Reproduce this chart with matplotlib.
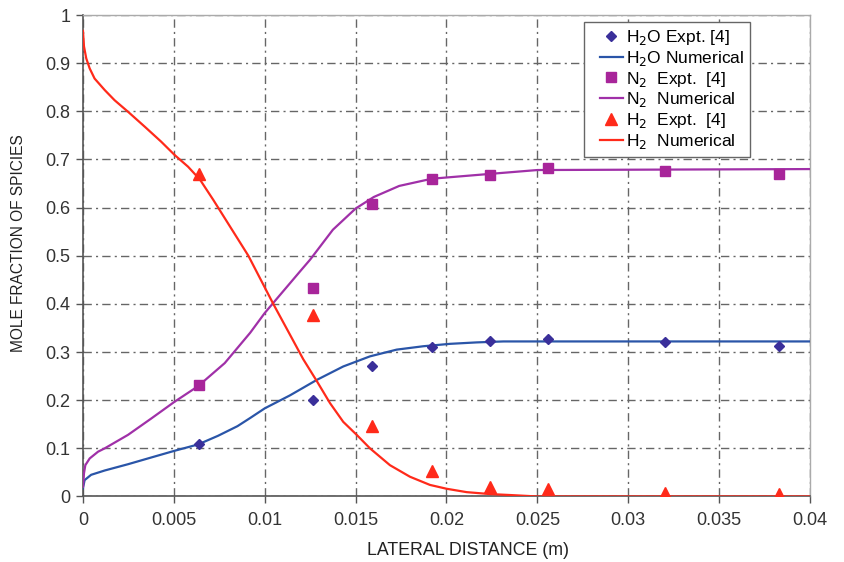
import matplotlib
matplotlib.use("Agg")
import matplotlib.pyplot as plt
from matplotlib.lines import Line2D
from matplotlib.legend_handler import HandlerLine2D

plt.rcParams['font.family'] = ['Liberation Sans', 'DejaVu Sans']

# Experimental data
x_expt = [0.00638, 0.01265, 0.0159, 0.0192, 0.0224, 0.0256, 0.0320, 0.0383]
h2o_expt = [0.108, 0.200, 0.270, 0.310, 0.322, 0.328, 0.320, 0.312]
n2_expt = [0.231, 0.432, 0.607, 0.659, 0.668, 0.682, 0.676, 0.670]
h2_expt = [0.670, 0.376, 0.146, 0.052, 0.019, 0.015, 0.008, 0.006]

# Numerical curves
x_h2o_num = [0.0, 0.00009, 0.00045, 0.0012, 0.00248, 0.00376, 0.00505, 0.00633,
             0.00743, 0.0085, 0.0092, 0.01, 0.01139, 0.01286, 0.01432, 0.01579,
             0.01726, 0.01872, 0.02019, 0.02166, 0.02313, 0.04]
h2o_num = [0.017, 0.034, 0.045, 0.054, 0.067, 0.081, 0.095, 0.108,
           0.126, 0.146, 0.163, 0.183, 0.210, 0.242, 0.270, 0.291,
           0.305, 0.312, 0.317, 0.320, 0.322, 0.322]

x_n2_num = [0.0, 0.000055, 0.00013, 0.00037, 0.00083, 0.0012, 0.00248, 0.00376,
            0.00505, 0.00633, 0.0078, 0.0092, 0.01, 0.01056, 0.012, 0.0125,
            0.01375, 0.015, 0.016, 0.0174, 0.0192, 0.0224, 0.025, 0.04]
n2_num = [0.020, 0.048, 0.065, 0.079, 0.093, 0.100, 0.128, 0.162,
          0.197, 0.229, 0.277, 0.340, 0.381, 0.406, 0.470, 0.492,
          0.554, 0.598, 0.622, 0.645, 0.660, 0.670, 0.678, 0.680]

x_h2_num = [0.0, 0.000055, 0.00018, 0.00037, 0.00064, 0.0012, 0.00174, 0.00248,
            0.0034, 0.0043, 0.00505, 0.00578, 0.00644, 0.00717, 0.0091, 0.01047,
            0.01139, 0.01212, 0.01286, 0.01359, 0.01432, 0.01506, 0.01579, 0.01689,
            0.01799, 0.01909, 0.02001, 0.02111, 0.02239, 0.0235, 0.025, 0.04]
h2_num = [0.967, 0.935, 0.910, 0.889, 0.868, 0.844, 0.823, 0.799,
          0.768, 0.737, 0.709, 0.685, 0.658, 0.616, 0.500, 0.400,
          0.336, 0.285, 0.240, 0.194, 0.155, 0.128, 0.100, 0.065,
          0.041, 0.024, 0.016, 0.009, 0.005, 0.003, 0.0, 0.0]

fig = plt.figure(figsize=(8.44, 5.62), dpi=100)
ax = fig.add_axes([0.0983, 0.1166, 0.8614, 0.8567])

c_h2o_m = '#3a2f9a'
c_h2o_l = '#2a55a8'
c_n2 = '#a8259a'
c_n2_l = '#a030a8'
c_h2 = '#ff2a1a'

ax.plot(x_expt, h2o_expt, linestyle='none', marker='D', ms=5.5, color=c_h2o_m,
        label=r'H$_2$O Expt. [4]', zorder=4)
ax.plot(x_h2o_num, h2o_num, color=c_h2o_l, lw=1.6, label=r'H$_2$O Numerical', zorder=3)
ax.plot(x_expt, n2_expt, linestyle='none', marker='s', ms=7, color=c_n2,
        label=r'N$_2$  Expt.  [4]', zorder=4)
ax.plot(x_n2_num, n2_num, color=c_n2_l, lw=1.6, label=r'N$_2$  Numerical', zorder=3)
ax.plot(x_expt, h2_expt, linestyle='none', marker='^', ms=8, color=c_h2,
        label=r'H$_2$  Expt.  [4]', zorder=4)
ax.plot(x_h2_num, h2_num, color=c_h2, lw=1.6, label=r'H$_2$  Numerical', zorder=3)

ax.set_xlim(0, 0.04)
ax.set_ylim(0, 1)
ax.set_xticks([0, 0.005, 0.01, 0.015, 0.02, 0.025, 0.03, 0.035, 0.04])
ax.set_xticklabels(['0', '0.005', '0.01', '0.015', '0.02', '0.025', '0.03', '0.035', '0.04'])
ax.set_yticks([0, 0.1, 0.2, 0.3, 0.4, 0.5, 0.6, 0.7, 0.8, 0.9, 1.0])
ax.set_yticklabels(['0', '0.1', '0.2', '0.3', '0.4', '0.5', '0.6', '0.7', '0.8', '0.9', '1'])

ax.grid(True, color='#666666', linestyle=(0, (6, 3, 1.5, 3)), linewidth=1.0)
ax.tick_params(direction='out', length=5, width=1, colors='#555555',
               labelcolor='#333333', labelsize=13, pad=6)
ax.tick_params(axis='y', pad=4)

for side in ['left', 'bottom']:
    ax.spines[side].set_color('#555555')
    ax.spines[side].set_linewidth(1.2)
for side in ['right', 'top']:
    ax.spines[side].set_color('#aaaaaa')
    ax.spines[side].set_linewidth(1.0)

ax.set_xlabel('LATERAL DISTANCE (m)', fontsize=12.8, color='#222222', labelpad=8)
ax.xaxis.set_label_coords(0.53, -0.095)
ax.set_ylabel('MOLE FRACTION OF SPICIES', fontsize=11.2, color='#222222')
ax.yaxis.set_label_coords(-0.078, 0.526)

leg = ax.legend(loc='upper right', bbox_to_anchor=(0.9175, 0.9855), fontsize=12.5,
                frameon=True, fancybox=False, edgecolor='#666666', framealpha=1,
                handlelength=1.9, handletextpad=0.15, borderpad=0.35, labelspacing=0.1,
                borderaxespad=0,
                handler_map={Line2D: HandlerLine2D(xpad=0.55)})
leg.get_frame().set_linewidth(1.0)

fig.savefig('out.png', dpi=100, facecolor='white')
